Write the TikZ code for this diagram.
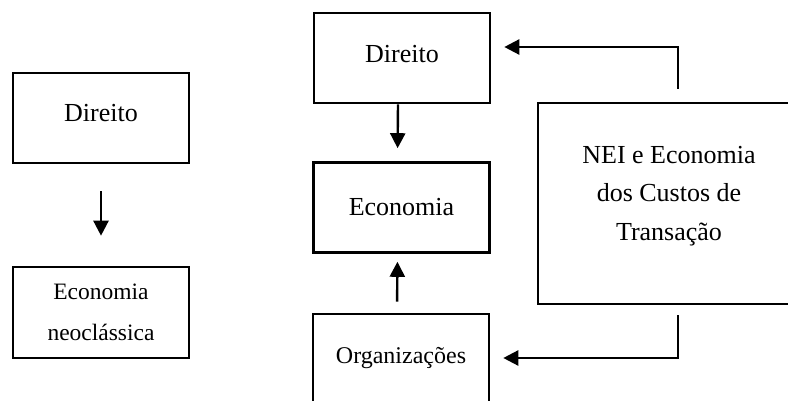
\documentclass[tikz,border=0pt]{standalone}
\usepackage{fontspec}
\setmainfont{Liberation Serif}
\usetikzlibrary{arrows.meta}
\usetikzlibrary{calc}

\begin{document}
\begin{tikzpicture}[x=1pt, y=-1pt, >={Triangle[length=15pt,width=15pt]},
  caixa/.style={draw, line width=2.6pt, minimum width=176pt, minimum height=90pt, inner sep=0pt, align=center, font=\fontsize{26}{38.5}\selectfont},
  seta/.style={->, line width=2.4pt}]
\useasboundingbox (0,0) rectangle (788,401);
\clip (0,0) rectangle (788,401);
\node[caixa, text depth=10pt] (1) at (101,118) {Direito};
\node[caixa, minimum height=91pt, font=\fontsize{23.5}{41}\selectfont] (2) at (101,312.5) {Economia\\neoclássica};
\node[caixa, text depth=8pt] (3) at (402,58) {Direito};
\node[caixa] (4) at (401.5,207.5) {Economia};
\node[caixa, text depth=8pt, font=\fontsize{24}{30}\selectfont] (5) at (401,359) {Organizações};
\node[caixa, text depth=21pt, minimum width=262pt, minimum height=201pt] (6) at (669,203.5) {NEI e Economia\\dos Custos de\\Transação};
\coordinate (c1) at (678,47);
\coordinate (c2) at (678,358);
 \draw[seta, shorten <=27pt, shorten >=30pt] (1)--(2);
 \draw[seta, shorten >=13pt] ([xshift=-4pt]3.south)--([xshift=-4pt]4.north);
 \draw[seta, shorten <=11pt, shorten >=8pt] ([xshift=-4pt]5.north)--([xshift=-4pt]4.south);
 \draw[seta, shorten <=13pt, shorten >=13pt] (6.north -| c1)--(c1)--(c1 -| 3.east);
 \draw[seta, shorten <=10pt, shorten >=13pt] (6.south -| c1)--(c2)--(c2 -| 5.east);
\end{tikzpicture}
\end{document}
